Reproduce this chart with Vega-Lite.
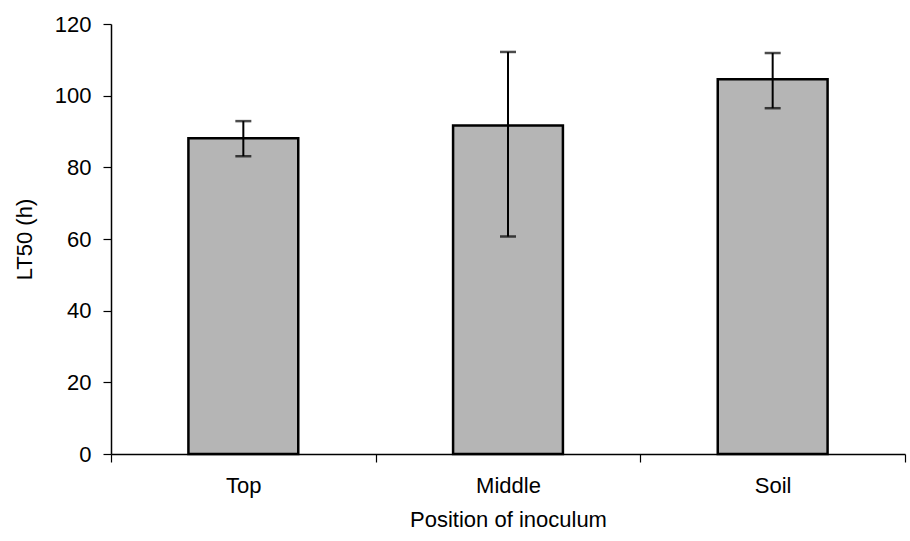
{
  "$schema": "https://vega.github.io/schema/vega-lite/v6.json",
  "width": 794,
  "height": 430,
  "autosize": "none",
  "padding": {"left": 111, "top": 24, "right": 5, "bottom": 87},
  "background": "white",
  "config": {
    "view": {"stroke": null},
    "font": "Liberation Sans",
    "axis": {"labelFont": "Liberation Sans", "titleFont": "Liberation Sans", "labelColor": "black", "titleColor": "black", "domainColor": "black", "tickColor": "black", "grid": false, "titleFontWeight": "normal"}
  },
  "data": {
    "values": [
      {"position": "Top", "lt50": 88.1, "lo": 83.1, "hi": 92.9},
      {"position": "Middle", "lt50": 91.7, "lo": 60.7, "hi": 112.2},
      {"position": "Soil", "lt50": 104.6, "lo": 96.5, "hi": 111.9}
    ]
  },
  "encoding": {
    "x": {
      "field": "position",
      "type": "nominal",
      "sort": ["Top", "Middle", "Soil"],
      "scale": {"paddingInner": 0, "paddingOuter": 0},
      "axis": {
        "title": "Position of inoculum",
        "labelAngle": 0,
        "labelFontSize": 22,
        "titleFontSize": 22,
        "tickBand": "extent",
        "tickSize": 8,
        "labelPadding": 13,
        "titlePadding": 13,
        "domainWidth": 1.5,
        "tickWidth": 1.2
      }
    }
  },
  "layer": [
    {
      "mark": {"type": "bar", "fill": "#b5b5b5", "stroke": "black", "strokeWidth": 2.5, "width": {"band": 0.415}},
      "encoding": {
        "y": {
          "field": "lt50",
          "type": "quantitative",
          "scale": {"domain": [0, 120]},
          "axis": {
            "title": "LT50 (h)",
            "values": [0, 20, 40, 60, 80, 100, 120],
            "labelFontSize": 22,
            "titleFontSize": 22,
            "tickSize": 8,
            "labelPadding": 12,
            "titlePadding": 18,
            "domainWidth": 1.5,
            "tickWidth": 1.2
          }
        }
      }
    },
    {
      "mark": {"type": "rule", "color": "black", "strokeWidth": 2},
      "encoding": {
        "y": {"field": "lo", "type": "quantitative"},
        "y2": {"field": "hi"}
      }
    },
    {
      "mark": {"type": "tick", "color": "black", "thickness": 2.5, "size": 16},
      "encoding": {"y": {"field": "lo", "type": "quantitative"}}
    },
    {
      "mark": {"type": "tick", "color": "black", "thickness": 2.5, "size": 16},
      "encoding": {"y": {"field": "hi", "type": "quantitative"}}
    }
  ]
}
